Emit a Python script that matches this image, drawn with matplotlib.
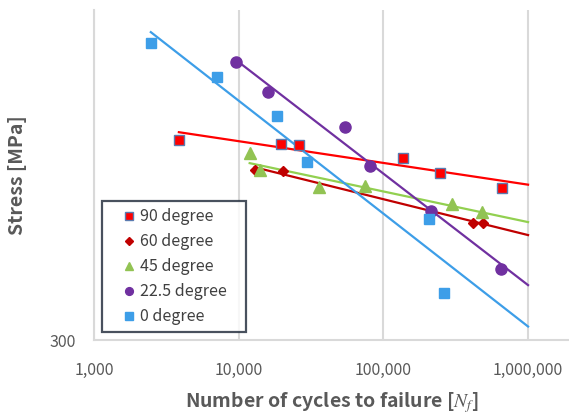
import numpy as np
import matplotlib
matplotlib.use("Agg")
import matplotlib.pyplot as plt
from matplotlib.ticker import FixedLocator, FuncFormatter, NullLocator

plt.rcParams["font.family"] = ["Noto Sans CJK KR", "DejaVu Sans"]
plt.rcParams["mathtext.fontset"] = "stix"

# cycles to failure / stress (MPa)
n_90 = [3860, 19480, 25930, 137400, 247200, 662000]
s_90 = [1211, 1178, 1170, 1068, 962, 866]
n_60 = [12890, 20100, 417600, 489500]
s_60 = [982, 976, 679, 679]
n_45 = [11910, 13960, 35640, 75160, 299200, 481700]
s_45 = [1106, 982, 872, 878, 775, 733]
n_22 = [9530, 15850, 54700, 81300, 214300, 651300]
s_22 = [2087, 1693, 1326, 1011, 738, 492]
n_0 = [2470, 7050, 18280, 29440, 207600, 263600]
s_0 = [2383, 1880, 1432, 1038, 698, 416]

labels = ["90 degree", "60 degree", "45 degree", "22.5 degree", "0 degree"]
x_ticks = [1000, 10000, 100000, 1000000]
trend_end = 1000000

# (N, S, label, colour, marker, size, edge)
SERIES = [
    (n_90, s_90, labels[0], "#FF0000", "s", 7.5, "#5A7BB0"),
    (n_60, s_60, labels[1], "#C00000", "D", 5.5, "#C00000"),
    (n_45, s_45, labels[2], "#92C353", "^", 8, "#92C353"),
    (n_22, s_22, labels[3], "#7030A0", "o", 8, "#7030A0"),
    (n_0, s_0, labels[4], "#3D9EE8", "s", 7.5, "#3D9EE8"),
]
LINE_COLORS = ["#FF0000", "#C00000", "#92D050", "#7030A0", "#3D9EE8"]

fig = plt.figure(figsize=(5.69, 4.19), dpi=100)
ax = fig.add_axes([94 / 569, 79 / 419, 475 / 569, 330 / 419])
ax.set_xscale("log")
ax.set_yscale("log")
ax.set_xlim(1000, 10 ** 6.283)
ax.set_ylim(300, 3000)

handles = []
for (n, s, lab, col, mk, ms, ec), lc in zip(SERIES, LINE_COLORS):
    # power-law trendline, as Excel draws it
    k, b = np.polyfit(np.log10(n), np.log10(s), 1)
    xs = np.array([min(n), trend_end], dtype=float)
    ax.plot(xs, 10 ** (b + k * np.log10(xs)), color=lc, lw=1.6, zorder=2)
    h, = ax.plot(n, s, ls="none", marker=mk, ms=ms, mfc=col, mec=ec, mew=1.0,
                 zorder=3, label=lab)
    handles.append(h)

ax.xaxis.set_major_locator(FixedLocator(x_ticks))
ax.xaxis.set_minor_locator(NullLocator())
ax.xaxis.set_major_formatter(FuncFormatter(lambda v, p: f"{int(v):,}"))
ax.yaxis.set_major_locator(FixedLocator([300]))
ax.yaxis.set_minor_locator(NullLocator())
ax.yaxis.set_major_formatter(FuncFormatter(lambda v, p: f"{int(v)}"))
ax.tick_params(axis="both", length=0, labelsize=11.5, labelcolor="#595959")
ax.tick_params(axis="x", pad=16)
ax.tick_params(axis="y", pad=13)

ax.grid(True, axis="x", color="#D9D9D9", lw=1.5)
ax.set_axisbelow(True)
for side in ("top", "right"):
    ax.spines[side].set_visible(False)
for side in ("left", "bottom"):
    ax.spines[side].set_color("#D9D9D9")
    ax.spines[side].set_linewidth(1.5)

ax.set_xlabel("Number of cycles to failure [$N_f$]", fontsize=14,
              fontweight="bold", color="#595959", labelpad=8)
ax.set_ylabel("Stress [MPa]", fontsize=14, fontweight="bold",
              color="#595959", labelpad=16)

leg = ax.legend(handles=handles, loc="upper left", mode="expand",
                bbox_to_anchor=(102 / 569, 1 - 329 / 419, 144 / 569, 128 / 419),
                bbox_transform=fig.transFigure, borderaxespad=0,
                fontsize=11.5, frameon=True, fancybox=False,
                handlelength=2.5, handletextpad=-0.6, labelspacing=0.5,
                borderpad=0.45, markerscale=0.7)
leg.get_frame().set_edgecolor("#1B2636")
leg.get_frame().set_linewidth(1.6)
for t in leg.get_texts():
    t.set_color("#404040")
leg.set_zorder(5)

fig.savefig("out.png", dpi=100)
